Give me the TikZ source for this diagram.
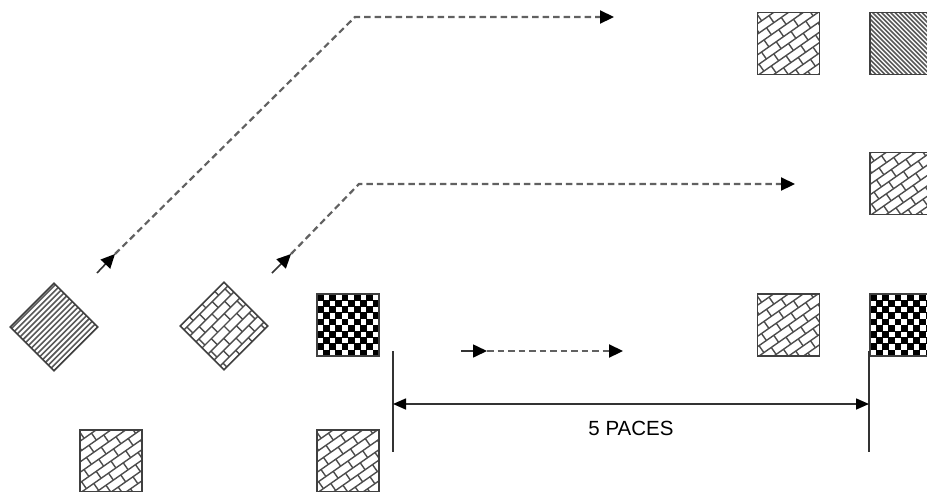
\documentclass[tikz,border=0pt]{standalone}
\usepackage{fontspec}
\setmainfont{Liberation Sans}
\usetikzlibrary{arrows.meta}

\tikzset{
  sq/.style={draw=black!75, line width=1.6pt, minimum size=62pt, inner sep=0pt, outer sep=0pt},
  mortar/.style={draw=black!70, line width=1.4pt},
  hatchline/.style={draw=black!65, line width=1.6pt},
  dashpath/.style={draw=black!62, line width=2.2pt, dash pattern=on 6.5pt off 4pt},
  solidline/.style={draw=black!80, line width=1.6pt},
  headtip/.style={-{Triangle[length=14pt,width=13pt,color=black]}},
  dimtips/.style={{Triangle[length=13pt,width=11pt,color=black]}-{Triangle[length=13pt,width=11pt,color=black]}},
  lbl/.style={font=\fontsize{20.5}{23}\selectfont, inner sep=0pt}
}

% brick pattern: centre x, centre y, outer rotation, brick angle
\newcommand\brickfill[4]{%
  \begin{scope}[shift={(#1,#2)}, rotate=#3]
    \clip (-31,-31) rectangle (31,31);
    \begin{scope}[rotate=#4]
      \foreach \r in {-7,...,7}{
        \draw[mortar] (-70,\r*8.5) -- (70,\r*8.5);
        \pgfmathsetmacro\boff{mod(\r+20,2)*9}
        \foreach \c in {-5,...,5}{\draw[mortar] (\c*18+\boff,\r*8.5) -- ++(0,8.5);}
      }
    \end{scope}
  \end{scope}}

% checker pattern
\newcommand\checkfill[2]{%
  \begin{scope}[shift={(#1,#2)}]
    \clip (-31,-31) rectangle (31,31);
    \foreach \i in {0,2,...,8}{
      \foreach \j in {0,2,...,8}{
        \fill[black] (-31+\i*6.2-0.3,-31+\j*6.2-0.3) rectangle ++(6.8,6.8);
        \fill[black] (-31+\i*6.2+6.2-0.3,-31+\j*6.2+6.2-0.3) rectangle ++(6.8,6.8);
      }
    }
  \end{scope}}

% diagonal hatch (top-left to bottom-right)
\newcommand\hatchfill[2]{%
  \begin{scope}[shift={(#1,#2)}]
    \clip (-31,-31) rectangle (31,31);
    \foreach \k in {-96,-91.5,...,40}{\draw[hatchline] (\k,-31) -- (\k+62,31);}
  \end{scope}}

% parallel lines in a rotated square
\newcommand\linefill[3]{%
  \begin{scope}[shift={(#1,#2)}, rotate=#3]
    \clip (-31,-31) rectangle (31,31);
    \foreach \k in {-29,-25,...,31}{\draw[hatchline] (-35,\k) -- (35,\k);}
  \end{scope}}

\begin{document}
\begin{tikzpicture}[x=1pt, y=-1pt]
  \useasboundingbox (0,0) rectangle (927,491);
  \clip (0,0) rectangle (927,491);

  % patterns
  \linefill{54}{327}{45}
  \brickfill{224}{326}{45}{0}
  \checkfill{348}{325}
  \brickfill{111}{461}{0}{35}
  \brickfill{348}{461}{0}{35}
  \brickfill{788.5}{43.5}{0}{35}
  \hatchfill{901}{43.5}
  \brickfill{901}{183.5}{0}{35}
  \brickfill{788.5}{325}{0}{35}
  \checkfill{901}{325}

  % frames (named nodes)
  \node[sq, rotate=45] (dA) at (54,327) {};
  \node[sq, rotate=45] (dB) at (224,326) {};
  \node[sq] (cL) at (348,325) {};
  \node[sq] (bL1) at (111,461) {};
  \node[sq] (bL2) at (348,461) {};
  \node[sq] (bT) at (788.5,43.5) {};
  \node[sq] (hT) at (901,43.5) {};
  \node[sq] (bM) at (901,183.5) {};
  \node[sq] (bR) at (788.5,325) {};
  \node[sq] (cR) at (901,325) {};

  % path 1
  \coordinate (a1s) at (97,273);
  \coordinate (a1h) at (115,254);
  \coordinate (a1c) at (355,17);
  \coordinate (a1e) at (614,17);
  \draw[solidline, headtip] (a1s) -- (a1h);
  \draw[dashpath, headtip] (a1h) -- (a1c) -- (a1e);

  % path 2
  \coordinate (a2s) at (272,273);
  \coordinate (a2h) at (291,254);
  \coordinate (a2c) at (359,184);
  \coordinate (a2e) at (795,184);
  \draw[solidline, headtip] (a2s) -- (a2h);
  \draw[dashpath, headtip] (a2h) -- (a2c) -- (a2e);

  % short arrow
  \coordinate (a3s) at (461,351);
  \coordinate (a3h) at (487,351);
  \coordinate (a3e) at (623,351);
  \draw[solidline, headtip] (a3s) -- (a3h);
  \draw[dashpath, headtip] (a3h) -- (a3e);

  % dimension
  \coordinate (vl1) at (393,351);
  \coordinate (vl2) at (393,452);
  \coordinate (vr1) at (869,351);
  \coordinate (vr2) at (869,452);
  \coordinate (pl) at (393,404);
  \coordinate (pr) at (869,404);
  \draw[solidline] (vl1) -- (vl2);
  \draw[solidline] (vr1) -- (vr2);
  \draw[solidline, dimtips] (pl) -- (pr);
  \node[lbl] (paces) at (631,428) {5 PACES};
\end{tikzpicture}
\end{document}
